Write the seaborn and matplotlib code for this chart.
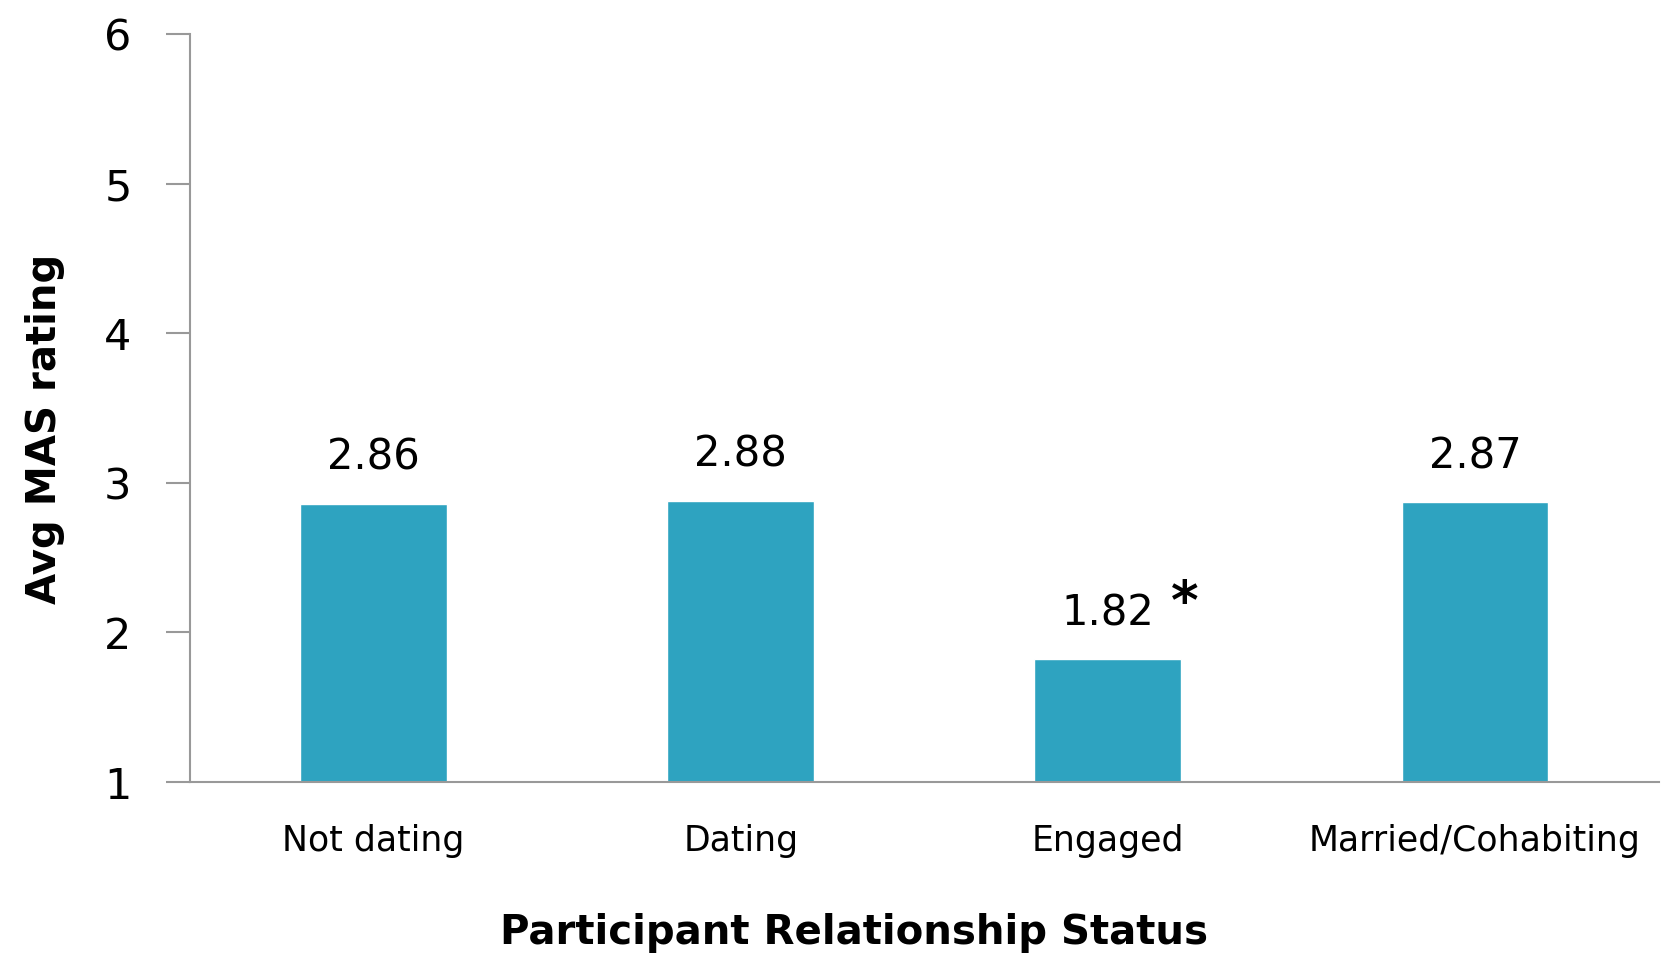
import matplotlib
matplotlib.use("Agg")
import matplotlib.pyplot as plt
import seaborn as sns
import pandas as pd

categories = ["Not dating", "Dating", "Engaged", "Married/Cohabiting"]
values = [2.86, 2.88, 1.82, 2.87]
value_labels = ["2.86", "2.88", "1.82", "2.87"]
yticks = [1, 2, 3, 4, 5, 6]

sns.set_theme(style="white")
plt.rcParams["font.family"] = ["DejaVu Sans"]
plt.rcParams["text.color"] = "black"
plt.rcParams["axes.labelcolor"] = "black"
plt.rcParams["xtick.color"] = "black"
plt.rcParams["ytick.color"] = "black"

df = pd.DataFrame({"status": categories, "rating": values})

fig = plt.figure(figsize=(16.69, 9.6), dpi=100)
ax = fig.add_axes([0.1138, 0.1853, 0.88, 0.7793])

sns.barplot(data=df, x="status", y="rating", color="#2EA3C0", saturation=1,
            width=0.4, ax=ax)

ax.set_ylim(1, 6)
ax.set_xlim(-0.5, 3.5)
ax.set_yticks(yticks)
ax.set_yticklabels([str(t) for t in yticks], fontsize=31)
ax.tick_params(axis="y", length=17, width=1.5, color="#999999", labelcolor="black",
               pad=25, left=True)
ax.tick_params(axis="x", length=0, pad=30, labelsize=25, labelcolor="black")

for s in ["top", "right"]:
    ax.spines[s].set_visible(False)
for s in ["left", "bottom"]:
    ax.spines[s].set_color("#999999")
    ax.spines[s].set_linewidth(1.5)

for i, (v, lab) in enumerate(zip(values, value_labels)):
    ax.annotate(lab, xy=(i, v), xytext=(0, 18), textcoords="offset points",
                ha="center", va="bottom", fontsize=30, color="black")

ax.annotate("*", xy=(2, values[2]), xytext=(55, 21), textcoords="offset points",
            ha="center", va="bottom", fontsize=38, fontweight="bold", color="black")

ax.set_xlabel("Participant Relationship Status", fontsize=29, fontweight="bold",
              color="black", va="center")
ax.xaxis.set_label_coords(0.452, -0.202)
ax.set_ylabel("Avg MAS rating", fontsize=29, fontweight="bold", color="black")
ax.yaxis.set_label_coords(-0.085, 0.472)

fig.savefig("out.png", dpi=100)
